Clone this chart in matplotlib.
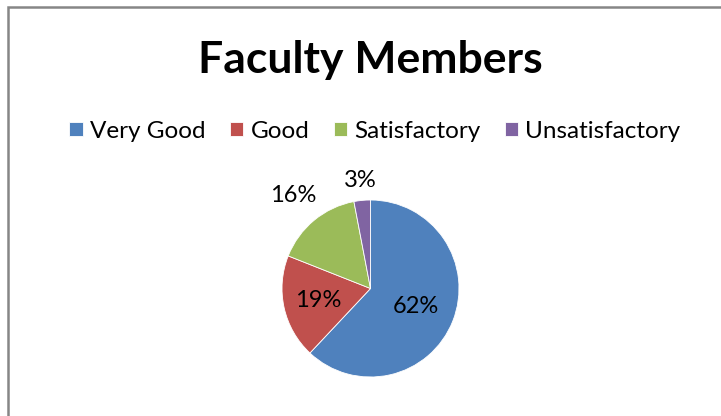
import matplotlib
matplotlib.use("Agg")
import matplotlib.pyplot as plt
import numpy as np
from matplotlib.patches import Rectangle

categories = ["Very Good", "Good", "Satisfactory", "Unsatisfactory"]
shares = [62, 19, 16, 3]
colors = ["#4F81BD", "#C0504D", "#9BBB59", "#8064A2"]
# distance of each percentage label from the centre, in radii
label_dist = [0.55, 0.6, 1.37, 1.23]

plt.rcParams['font.family'] = ['Lato', 'DejaVu Sans']

W, H = 721, 416
fig = plt.figure(figsize=(W / 100, H / 100), dpi=100)
fig.patch.set_facecolor('white')

# chart frame (only top and left edges are visible in the crop)
fig.patches.append(Rectangle((7.5 / W, -0.2), 1.2, 1 - 7.5 / H + 0.2,
                             transform=fig.transFigure, fill=False,
                             edgecolor='#868686', linewidth=1.8))

# pie axes placed by pixel centre / radius
cx, cy, r = 370.5, 288.5, 88.5
ax = fig.add_axes([(cx - r) / W, (H - cy - r) / H, 2 * r / W, 2 * r / H])
wedges, _ = ax.pie(shares, colors=colors, startangle=90, counterclock=False,
                   radius=1, wedgeprops=dict(edgecolor='white', linewidth=0.6))
ax.set_xlim(-1, 1)
ax.set_ylim(-1, 1)
ax.set_aspect('equal')
ax.axis('off')

for w, v, d in zip(wedges, shares, label_dist):
    ang = np.radians((w.theta1 + w.theta2) / 2)
    ax.text(d * np.cos(ang), d * np.sin(ang), f"{v}%", ha='center', va='center',
            fontsize=17, color='black', clip_on=False)

fig.text(370 / W, 1 - 60 / H, "Faculty Members", ha='center', va='center',
         fontsize=32, fontweight='bold')

fig.legend(wedges, categories, loc='center', bbox_to_anchor=(375 / W, 1 - 131 / H),
           ncol=4, frameon=False, fontsize=17.5, handlelength=0.55, handleheight=0.55,
           handletextpad=0.3, columnspacing=1.0)

fig.savefig("out.png", dpi=100)
